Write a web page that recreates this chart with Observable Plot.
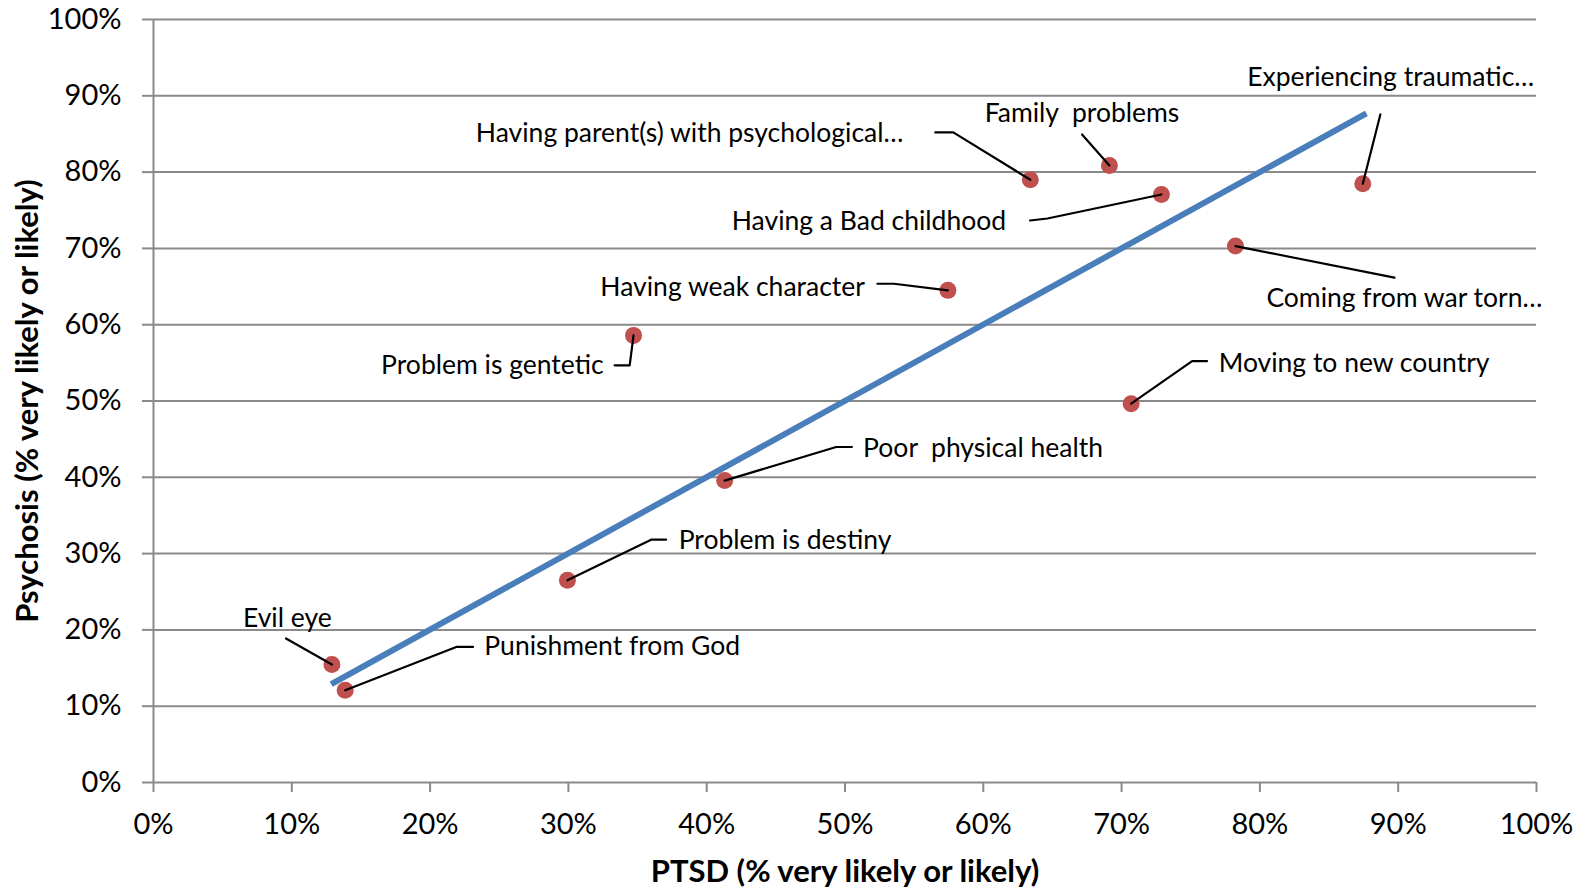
<!DOCTYPE html>
<html><head><meta charset="utf-8">
<script src="https://cdn.jsdelivr.net/npm/d3@7"></script>
<script src="https://cdn.jsdelivr.net/npm/@observablehq/plot@0.6"></script>
<style>body{margin:0;background:#fff} svg{display:block}</style>
</head><body><div id="chart"></div>
<script>
// Categories (causes) and their values (% very likely or likely)
const categories = [
  "Evil eye",
  "Punishment from God",
  "Problem is destiny",
  "Poor  physical health",
  "Problem is gentetic",
  "Having weak character",
  "Having parent(s) with psychological…",
  "Family  problems",
  "Having a Bad childhood",
  "Experiencing traumatic…",
  "Coming from war torn…",
  "Moving to new country"
];
const ptsd      = [12.9, 13.86, 29.93, 41.3, 34.71, 57.44, 63.4, 69.12, 72.88, 87.44, 78.23, 70.69];
const psychosis = [15.46, 12.09, 26.5, 39.57, 58.6, 64.5, 79.0, 80.87, 77.07, 78.47, 70.3, 49.65];

// Linear trendline endpoints
const trendX = [12.85, 87.7];
const trendY = [12.9, 87.7];

// Tick values
const ticks = [0, 10, 20, 30, 40, 50, 60, 70, 80, 90, 100];

// Data-label placement (in axis units) and leader-line elbows
const labelX = [6.47, 23.92, 37.97, 51.31, 32.55, 51.44, 54.22, 60.10, 61.65, 79.08, 80.47, 77.02];
const labelY = [21.49, 17.77, 31.74, 43.76, 54.67, 64.93, 85.07, 87.65, 73.57, 92.36, 63.45, 54.97];
const labelAnchor = ["start","start","start","start","end","end","end","start","end","start","start","start"];
const leaderPts = [
  [[9.58, 18.87]],
  [[23.10, 17.77], [21.89, 17.77]],
  [[37.07, 31.84], [36.02, 31.84]],
  [[50.50, 43.97], [49.36, 43.97]],
  [[33.34, 54.67], [34.43, 54.67]],
  [[52.34, 65.37], [53.54, 65.37]],
  [[56.53, 85.20], [57.83, 85.20]],
  [[67.14, 84.93]],
  [[63.38, 73.66], [64.64, 73.92]],
  [[88.71, 87.56]],
  [[89.73, 66.16]],
  [[76.18, 55.23], [75.10, 55.23]]
];

const xTitle = "PTSD (% very likely or likely)";
const yTitle = "Psychosis (% very likely or likely)";

// Build tables
const points = categories.map((name, i) => ({name, x: ptsd[i], y: psychosis[i]}));
const labels = categories.map((name, i) => ({name, x: labelX[i], y: labelY[i], anchor: labelAnchor[i]}));
const leaders = [];
categories.forEach((name, i) => {
  leaderPts[i].forEach(([x, y]) => leaders.push({name, x, y}));
  leaders.push({name, x: ptsd[i], y: psychosis[i]});
});
const trend = trendX.map((x, i) => ({x, y: trendY[i]}));

const GRID = "#8a8a8a";
const pct = d => d + "%";

const chart = Plot.plot({
  width: 1594, height: 895,
  marginLeft: 153, marginRight: 58, marginTop: 19, marginBottom: 113,
  style: {fontFamily: "Lato, sans-serif", fontSize: "26px", color: "black", background: "white"},
  x: {domain: [0, 100], label: null},
  y: {domain: [0, 100], label: null},
  marks: [
    Plot.gridY(ticks, {stroke: GRID, strokeOpacity: 1, strokeWidth: 2}),
    Plot.ruleX([0], {stroke: GRID, strokeWidth: 2}),
    Plot.axisY(ticks, {tickSize: 11, tickPadding: 21, tickFormat: pct, stroke: GRID, strokeWidth: 2, fill: "black", fontSize: 29, label: null}),
    Plot.axisX(ticks, {tickSize: 10, tickPadding: 21, tickFormat: pct, stroke: GRID, strokeWidth: 2, fill: "black", fontSize: 29, label: null}),
    Plot.line(trend, {x: "x", y: "y", stroke: "#4a7ebb", strokeWidth: 6, strokeLinecap: "butt"}),
    Plot.dot(points, {x: "x", y: "y", r: 8.5, fill: "#c0504d", stroke: "none"}),
    Plot.line(leaders, {x: "x", y: "y", z: "name", stroke: "black", strokeWidth: 2.2, strokeLinejoin: "round"}),
    Plot.text(labels.filter(d => d.anchor === "start"), {x: "x", y: "y", text: "name", textAnchor: "start", lineAnchor: "middle", fontSize: 26.5, fill: "black"}),
    Plot.text(labels.filter(d => d.anchor === "end"), {x: "x", y: "y", text: "name", textAnchor: "end", lineAnchor: "middle", fontSize: 26.5, fill: "black"}),
    Plot.text([xTitle], {text: d => d, frameAnchor: "bottom", textAnchor: "middle", dy: 90, lineAnchor: "middle", fontWeight: "bold", fontSize: 31, fill: "black"}),
    Plot.text([yTitle], {text: d => d, frameAnchor: "left", textAnchor: "middle", dx: -125.5, rotate: -90, lineAnchor: "middle", fontWeight: "bold", fontSize: 31, fill: "black"})
  ]
});
document.getElementById("chart").append(chart);
</script>
</body></html>
